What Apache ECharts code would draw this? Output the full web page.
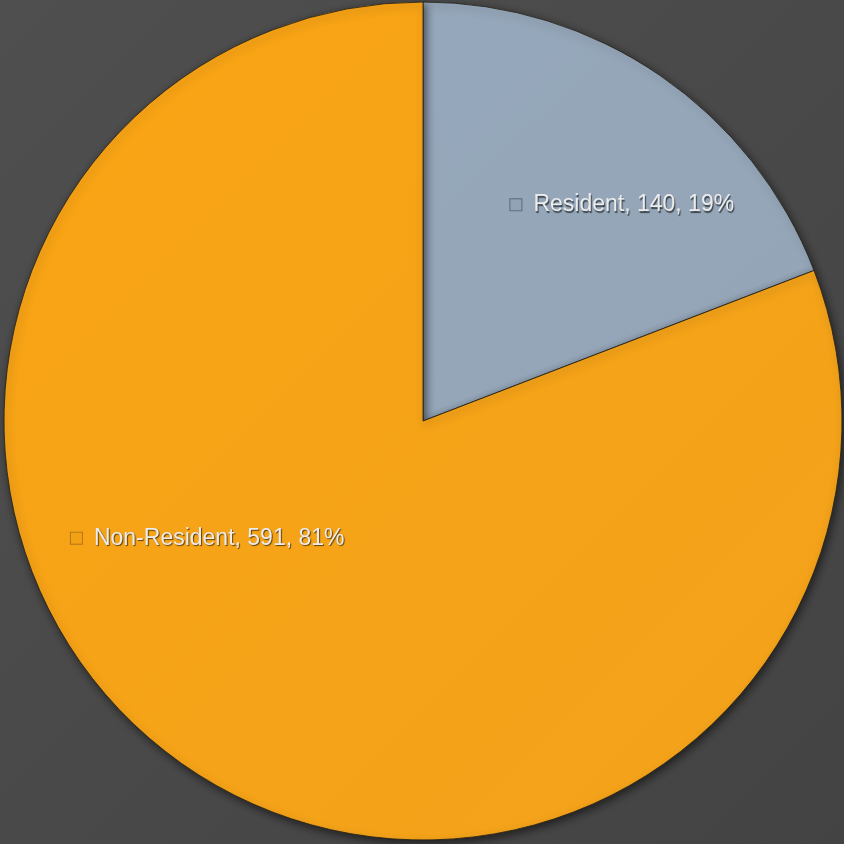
<!DOCTYPE html>
<html>
<head>
<meta charset="utf-8">
<script src="https://cdn.jsdelivr.net/npm/echarts@6/dist/echarts.min.js"></script>
<style>
  html, body { margin: 0; padding: 0; }
  #chart { width: 844px; height: 844px; }
</style>
</head>
<body>
<div id="chart"></div>
<script>
// residency split
const categories = ['Resident', 'Non-Resident']
const counts = [140, 591]
const sliceColors = ['#91a3b5', '#f2a014']
const keyBorders = ['#5d6b78', '#b5771a']
// label shifts from the default inner spot, to sit where the original has them
const labelShift = [[79, -41], [-95, -58]]

const chart = echarts.init(document.getElementById('chart'))

const total = counts.reduce((a, b) => a + b, 0)

chart.setOption({
  backgroundColor: {
    type: 'linear', x: 0, y: 0, x2: 1, y2: 1,
    colorStops: [
      { offset: 0, color: '#4f4f4f' },
      { offset: 1, color: '#434343' }
    ]
  },
  animation: false,
  series: [{
    type: 'pie',
    center: [423, 421],
    radius: 419,
    startAngle: 90,
    clockwise: true,
    data: categories.map((name, i) => ({
      name,
      value: counts[i],
      itemStyle: {
        color: {
          type: 'linear', x: 0, y: 0, x2: 1, y2: 1,
          colorStops: [
            { offset: 0, color: echarts.color.lift(sliceColors[i], -0.03) },
            { offset: 1, color: echarts.color.lift(sliceColors[i], 0.03) }
          ]
        }
      },
      label: {
        rich: {
          k: {
            width: 11, height: 11,
            borderColor: keyBorders[i], borderWidth: 1,
            backgroundColor: sliceColors[i]
          }
        }
      }
    })),
    itemStyle: {
      borderColor: 'rgba(40,35,25,0.85)',
      borderWidth: 1,
      shadowColor: 'rgba(0,0,0,0.55)',
      shadowBlur: 8,
      shadowOffsetX: 2,
      shadowOffsetY: 3
    },
    label: {
      show: true,
      position: 'inside',
      formatter: p => '{k|}{g|}{t|' + p.name + ', ' + p.value + ', ' + Math.round(p.value / total * 100) + '%}',
      rich: {
        g: { width: 12 },
        t: {
          fontFamily: 'Liberation Sans, Arial, sans-serif',
          fontSize: 23,
          color: '#ececec',
          textShadowColor: 'rgba(0,0,0,0.6)',
          textShadowBlur: 1,
          textShadowOffsetX: 1,
          textShadowOffsetY: 1.5
        }
      }
    },
    labelLayout: p => ({
      dx: labelShift[p.dataIndex][0],
      dy: labelShift[p.dataIndex][1]
    }),
    labelLine: { show: false },
    emphasis: { disabled: true }
  }]
})
</script>
</body>
</html>
